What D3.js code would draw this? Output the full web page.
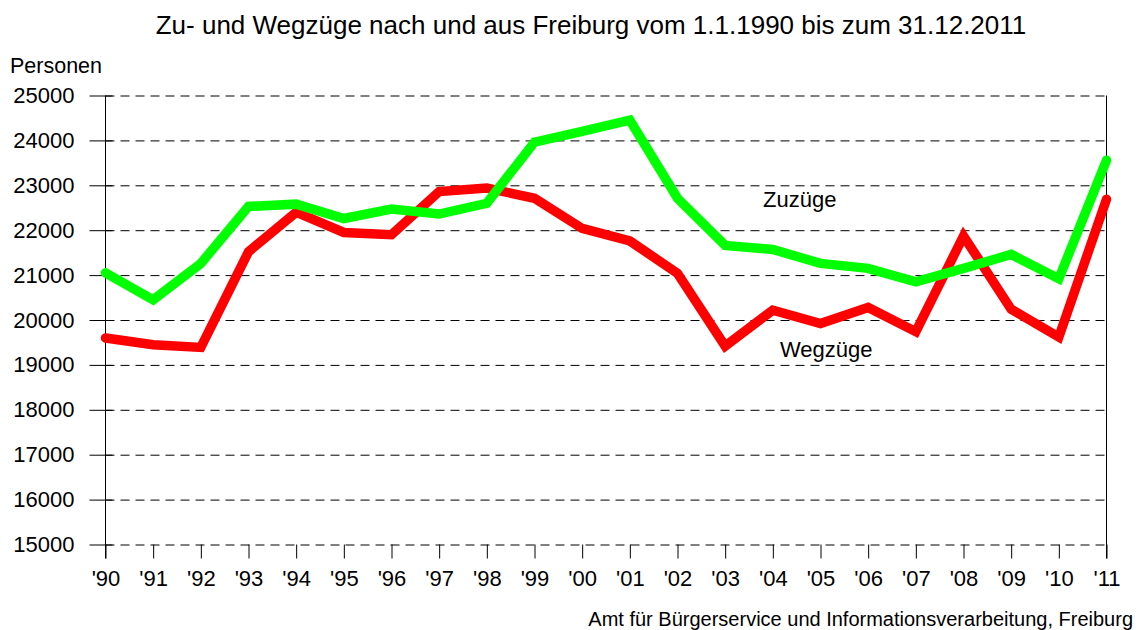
<!DOCTYPE html>
<html>
<head>
<meta charset="utf-8">
<script src="https://cdn.jsdelivr.net/npm/d3@7"></script>
<style>
  body { margin: 0; background: #fff; }
  text { font-family: "Liberation Sans", Arial, sans-serif; fill: #000; }
</style>
</head>
<body>
<div id="chart"></div>
<script>
// Zu- und Wegzüge Freiburg 1990-2011
const years = [1990, 1991, 1992, 1993, 1994, 1995, 1996, 1997, 1998, 1999, 2000,
               2001, 2002, 2003, 2004, 2005, 2006, 2007, 2008, 2009, 2010, 2011]
const yearLabels = ["'90", "'91", "'92", "'93", "'94", "'95", "'96", "'97", "'98", "'99", "'00",
                    "'01", "'02", "'03", "'04", "'05", "'06", "'07", "'08", "'09", "'10", "'11"]
const zuzuege = [21050, 20450, 21260, 22530, 22580, 22260, 22470, 22360, 22600, 23960, 24200,
                 24450, 22710, 21660, 21570, 21260, 21150, 20850, 21150, 21460, 20920, 23560]
const wegzuege = [19600, 19450, 19390, 21520, 22400, 21950, 21900, 22860, 22940, 22710, 22040,
                  21760, 21040, 19420, 20220, 19920, 20280, 19740, 21870, 20240, 19620, 22690]
const yTicks = [15000, 16000, 17000, 18000, 19000, 20000, 21000, 22000, 23000, 24000, 25000]

const svgWidth = 1138
const svgHeight = 630
const font = '"Liberation Sans", Arial, sans-serif'

const svg = d3.select('#chart').append('svg')
  .attr('width', svgWidth)
  .attr('height', svgHeight)

const x = d3.scaleLinear().domain([1990, 2011]).range([105.5, 1106.5])
const y = d3.scaleLinear().domain([15000, 25000]).range([544.5, 95.5])

// dashed grid
svg.append('g')
  .attr('transform', 'translate(' + x(1990) + ',0)')
  .call(d3.axisLeft(y).tickValues(yTicks).tickSize(-(x(2011) - x(1990))).tickFormat(''))
  .call(g => g.select('.domain').remove())
  .selectAll('line')
  .attr('stroke', '#000')
  .attr('stroke-dasharray', '9,6')

// y axis, ticks cross the axis a little
const yAxis = svg.append('g')
  .attr('transform', 'translate(' + x(1990) + ',0)')
  .call(d3.axisLeft(y).tickValues(yTicks).tickSize(16).tickPadding(15).tickFormat(d3.format('d')))
yAxis.select('.domain').remove()
yAxis.selectAll('line').attr('stroke', '#000').attr('x2', 7).attr('x1', -16)
yAxis.selectAll('text')
  .attr('font-size', 22)
  .attr('font-family', font)
  .attr('fill', '#000')

// x axis ticks
const xAxis = svg.append('g')
  .attr('transform', 'translate(0,' + y(15000) + ')')
  .call(d3.axisBottom(x).tickValues(years).tickSize(14).tickPadding(12)
    .tickFormat((d, i) => yearLabels[i]))
xAxis.select('.domain').remove()
xAxis.selectAll('line').attr('stroke', '#000')
xAxis.selectAll('text')
  .attr('font-size', 22)
  .attr('font-family', font)
  .attr('fill', '#000')

// left and right frame lines
svg.append('line')
  .attr('x1', x(1990)).attr('x2', x(1990))
  .attr('y1', y(25000)).attr('y2', y(15000) + 14)
  .attr('stroke', '#000')
svg.append('line')
  .attr('x1', x(2011)).attr('x2', x(2011))
  .attr('y1', y(25000)).attr('y2', y(15000) + 14)
  .attr('stroke', '#000')

// lines
const line = d3.line().x((d, i) => x(years[i])).y(d => y(d))

svg.append('path')
  .datum(wegzuege)
  .attr('d', line)
  .attr('fill', 'none')
  .attr('stroke', '#ff0000')
  .attr('stroke-width', 9.5)
  .attr('stroke-linecap', 'round')

svg.append('path')
  .datum(zuzuege)
  .attr('d', line)
  .attr('fill', 'none')
  .attr('stroke', '#00ff00')
  .attr('stroke-width', 9.5)
  .attr('stroke-linecap', 'round')

// texts
svg.append('text')
  .attr('x', 591).attr('y', 34)
  .attr('text-anchor', 'middle')
  .attr('font-size', 26)
  .text('Zu- und Wegzüge nach und aus Freiburg vom 1.1.1990 bis zum 31.12.2011')

svg.append('text')
  .attr('x', 10).attr('y', 73)
  .attr('font-size', 21.5)
  .text('Personen')

svg.append('text')
  .attr('x', 763).attr('y', 207)
  .attr('font-size', 22)
  .text('Zuzüge')

svg.append('text')
  .attr('x', 780).attr('y', 357)
  .attr('font-size', 22)
  .text('Wegzüge')

svg.append('text')
  .attr('x', 1133).attr('y', 626)
  .attr('text-anchor', 'end')
  .attr('font-size', 20)
  .text('Amt für Bürgerservice und Informationsverarbeitung, Freiburg')
</script>
</body>
</html>
